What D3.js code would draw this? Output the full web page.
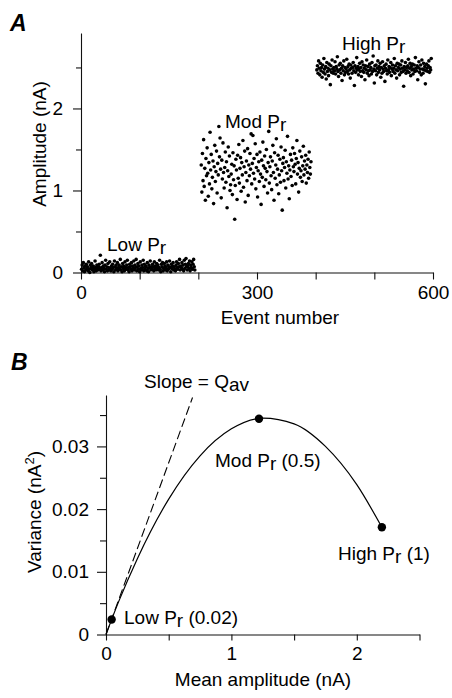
<!DOCTYPE html>
<html><head><meta charset="utf-8">
<script src="https://cdn.jsdelivr.net/npm/d3@7"></script>
<style>
html,body{margin:0;padding:0;background:#fff;}
svg{display:block;font-family:"Liberation Sans",Arial,Helvetica,sans-serif;}
text{fill:#000;}
</style></head><body>
<svg id="chart" width="452" height="698"></svg>
<script>
// ---------------- Panel A data ----------------
const groupStart = [1, 205, 402];
const lowAmp = [
0.04,0.09,0.02,0.12,0.06,0.01,0.08,0.03,0.10,0.05,
0.07,0.02,0.13,0.04,0.00,0.09,0.06,0.11,0.03,0.05,
0.08,0.01,0.04,0.14,0.06,0.02,0.09,0.05,0.03,0.07,
0.10,0.04,0.21,0.02,0.06,0.12,0.03,0.08,0.05,0.01,
0.09,0.15,0.04,0.07,0.02,0.11,0.06,0.03,0.13,0.05,
0.02,0.08,0.04,0.10,0.06,0.01,0.14,0.07,0.03,0.09,
0.05,0.12,0.02,0.06,0.09,0.04,0.16,0.03,0.07,0.01,
0.11,0.05,0.08,0.02,0.13,0.06,0.04,0.09,0.15,0.03,
0.06,0.01,0.10,0.07,0.04,0.12,0.02,0.08,0.05,0.14,
0.03,0.09,0.06,0.16,0.02,0.07,0.11,0.04,0.08,0.01,
0.13,0.05,0.03,0.09,0.06,0.15,0.02,0.10,0.04,0.07,
0.08,0.02,0.12,0.05,0.01,0.09,0.06,0.14,0.03,0.07,
0.04,0.10,0.07,0.02,0.13,0.05,0.08,0.03,0.11,0.06,
0.09,0.03,0.06,0.15,0.04,0.01,0.10,0.07,0.12,0.02,
0.05,0.11,0.08,0.03,0.06,0.13,0.02,0.09,0.04,0.07,
0.14,0.06,0.01,0.10,0.05,0.08,0.12,0.03,0.07,0.04,
0.02,0.09,0.13,0.06,0.04,0.11,0.07,0.16,0.03,0.08,
0.06,0.12,0.04,0.09,0.02,0.15,0.05,0.10,0.17,0.07,
0.03,0.08,0.11,0.05,0.14,0.02,0.09,0.06,0.13,0.04,
0.10,0.16,0.07,0.03];
const modAmp = [
1.31,0.98,1.45,1.12,1.62,1.05,1.27,0.88,1.39,1.18,
1.52,1.21,0.93,1.34,1.08,1.71,1.25,1.44,1.02,1.16,
1.36,0.84,1.29,1.55,1.11,1.23,1.48,0.97,1.33,1.19,
1.78,1.41,1.64,1.26,0.91,1.37,1.14,1.58,1.22,1.03,
1.28,1.47,1.10,1.35,0.79,1.24,1.53,1.17,1.42,1.00,
1.07,1.20,1.32,0.95,1.46,1.13,1.30,0.65,1.06,1.38,
1.25,0.89,1.43,1.15,1.56,1.09,1.27,1.40,0.99,1.34,
1.19,1.61,1.04,1.29,1.48,0.86,1.22,1.36,1.12,1.51,
0.94,1.31,1.18,1.45,1.26,1.69,1.08,1.33,1.67,1.21,
1.39,1.14,1.57,1.02,1.28,1.44,0.92,1.24,1.35,1.11,
1.47,1.20,0.83,1.37,1.16,1.59,1.30,1.05,1.42,1.27,
1.13,1.50,1.23,0.97,1.34,1.72,1.09,1.29,1.41,1.18,
1.01,1.36,1.55,1.22,0.88,1.46,1.15,1.31,1.63,1.07,
1.26,1.43,0.96,1.19,1.38,1.10,1.53,1.24,0.76,1.33,
1.40,1.12,1.28,1.49,1.03,1.35,1.21,1.66,1.14,1.30,
0.90,1.25,1.44,1.17,1.37,1.06,1.52,1.29,1.23,1.45,
1.32,1.08,1.39,1.61,1.20,1.34,0.98,1.27,1.48,1.16,
1.24,1.41,1.11,1.30,1.54,1.19,1.36,1.26,1.43,1.09,
1.31,1.22,1.38,1.15,1.47,1.28,1.20,1.35];
const highAmp = [
2.47,2.52,2.43,2.58,2.49,2.41,2.55,2.46,2.50,2.38,
2.53,2.44,2.61,2.48,2.42,2.51,2.36,2.56,2.45,2.49,
2.40,2.54,2.47,2.29,2.52,2.44,2.59,2.48,2.43,2.50,
2.46,2.57,2.42,2.51,2.48,2.63,2.45,2.39,2.53,2.47,
2.55,2.43,2.49,2.34,2.52,2.46,2.58,2.41,2.50,2.44,
2.48,2.60,2.45,2.51,2.42,2.54,2.47,2.37,2.53,2.49,
2.43,2.50,2.56,2.46,2.28,2.52,2.44,2.49,2.62,2.47,
2.51,2.41,2.48,2.55,2.45,2.50,2.39,2.57,2.46,2.53,
2.44,2.49,2.35,2.52,2.47,2.59,2.43,2.51,2.46,2.40,
2.54,2.47,2.50,2.42,2.56,2.45,2.64,2.48,2.31,2.52,
2.46,2.53,2.41,2.49,2.58,2.44,2.51,2.47,2.55,2.38,
2.50,2.43,2.57,2.48,2.45,2.52,2.33,2.49,2.54,2.46,
2.42,2.59,2.47,2.51,2.44,2.50,2.56,2.40,2.48,2.53,
2.45,2.49,2.61,2.43,2.52,2.47,2.37,2.55,2.46,2.50,
2.54,2.41,2.48,2.53,2.44,2.58,2.49,2.45,2.27,2.51,
2.47,2.56,2.43,2.50,2.46,2.52,2.60,2.44,2.49,2.55,
2.40,2.51,2.47,2.54,2.42,2.48,2.53,2.45,2.62,2.49,
2.46,2.52,2.35,2.50,2.57,2.44,2.48,2.53,2.41,2.59,
2.48,2.43,2.55,2.47,2.51,2.30,2.46,2.54,2.49,2.45,
2.52,2.58,2.44,2.50,2.47,2.61];
const aXTicks = [0,100,200,300,400,500,600];
const aXLabels = [0,300,600];
const aYTicks = [0,0.5,1,1.5,2,2.5];
const aYLabels = [0,1,2];

// ---------------- Panel B data ----------------
const bPointMean = [0.045, 1.22, 2.2];
const bPointVar = [0.0024, 0.0344, 0.0171];
const bCurveMean = [0, 0.1, 0.25, 0.5, 0.75, 1.0, 1.25, 1.5, 1.75, 2.0, 2.2];
const bCurveVar = [0, 0.0052, 0.0121, 0.0216, 0.0285, 0.0328, 0.0345, 0.0336, 0.0300, 0.0239, 0.0171];
const bSlopeMean = [0, 0.69];
const bSlopeVar = [0, 0.0378];
const bXTicks = [0,0.5,1,1.5,2,2.5];
const bXLabels = [0,1,2];
const bYTicks = [0,0.005,0.01,0.015,0.02,0.025,0.03,0.035];
const bYLabels = [0,0.01,0.02,0.03];

const svg = d3.select("#chart");
const FS = 19;
const near = (arr, d) => arr.some(v => Math.abs(v - d) < 1e-9);

function finishAxis(g, labels, majLen, minLen, vertical, fmt) {
  g.select(".domain").attr("stroke", "#111").attr("stroke-width", 1.1);
  g.selectAll(".tick line").attr("stroke", "#111").attr("stroke-width", 1.1)
    .attr(vertical ? "x2" : "y2", d => (near(labels, d) ? majLen : minLen) * (vertical ? -1 : 1));
  g.selectAll(".tick text").attr("fill", "#000").style("font-size", FS + "px")
    .text(d => near(labels, d) ? fmt(d) : "");
  g.attr("font-family", null);
}

function addLabel(x, y, parts, extra) {
  const t = svg.append("text").attr("x", x).attr("y", y).style("font-size", FS + "px");
  if (extra) extra(t);
  parts.forEach(p => {
    const s = t.append("tspan").text(p[0]);
    if (p[1]) s.attr("dy", p[1]);
    if (p[2]) s.style("font-size", p[2] + "px");
  });
  return t;
}

// ---------------- Panel A ----------------
const xA = d3.scaleLinear().domain([0, 600]).range([81, 433]);
const yA = d3.scaleLinear().domain([0, 2.92]).range([272.5, 33]);

const gAx = svg.append("g").attr("transform", `translate(0,${yA(0)})`)
  .call(d3.axisBottom(xA).tickValues(aXTicks).tickSize(7).tickPadding(6.5).tickSizeOuter(0));
finishAxis(gAx, aXLabels, 7, 7, false, d3.format("d"));
const gAy = svg.append("g").attr("transform", `translate(${xA(0)},0)`)
  .call(d3.axisLeft(yA).tickValues(aYTicks).tickSize(8).tickPadding(10).tickSizeOuter(0));
finishAxis(gAy, aYLabels, 8, 5, true, d3.format("d"));

[lowAmp, modAmp, highAmp].forEach((arr, gi) => {
  svg.append("g").selectAll("circle").data(arr).join("circle")
    .attr("cx", (d, i) => xA(groupStart[gi] + i))
    .attr("cy", d => yA(d))
    .attr("r", 1.8).attr("fill", "#000");
});

svg.append("text").attr("x", 10).attr("y", 31).text("A")
  .style("font-size", "23px").style("font-style", "italic").style("font-weight", "bold");

addLabel(107, 251, [["Low P"], ["r", 3]]);
addLabel(225, 128, [["Mod P"], ["r", 3]]);
addLabel(342, 50, [["High P"], ["r", 3]]);

svg.append("text").attr("x", 280).attr("y", 324).attr("text-anchor", "middle")
  .style("font-size", FS + "px").text("Event number");
svg.append("text").attr("transform", "translate(46,144) rotate(-90)").attr("text-anchor", "middle")
  .style("font-size", FS + "px").text("Amplitude (nA)");

// ---------------- Panel B ----------------
const xB = d3.scaleLinear().domain([0, 2.5]).range([106, 419.5]);
const yB = d3.scaleLinear().domain([0, 0.0382]).range([634.5, 395]);

const gBx = svg.append("g").attr("transform", `translate(0,${yB(0)})`)
  .call(d3.axisBottom(xB).tickValues(bXTicks).tickSize(6).tickPadding(6).tickSizeOuter(0));
finishAxis(gBx, bXLabels, 6, 6, false, d3.format("d"));
const gBy = svg.append("g").attr("transform", `translate(${xB(0)},0)`)
  .call(d3.axisLeft(yB).tickValues(bYTicks).tickSize(9).tickPadding(8).tickSizeOuter(0));
finishAxis(gBy, bYLabels, 9, 6, true, d => d === 0 ? "0" : d3.format(".2f")(d));

const curvePts = bCurveMean.map((m, i) => [m, bCurveVar[i]]);
svg.append("path").datum(curvePts)
  .attr("d", d3.line().x(d => xB(d[0])).y(d => yB(d[1])).curve(d3.curveMonotoneX))
  .attr("fill", "none").attr("stroke", "#000").attr("stroke-width", 1.2);

const slopePts = bSlopeMean.map((m, i) => [m, bSlopeVar[i]]);
svg.append("path").datum(slopePts)
  .attr("d", d3.line().x(d => xB(d[0])).y(d => yB(d[1])))
  .attr("fill", "none").attr("stroke", "#000").attr("stroke-width", 1.1)
  .attr("stroke-dasharray", "9,4");

svg.append("g").selectAll("circle").data(bPointMean).join("circle")
  .attr("cx", d => xB(d)).attr("cy", (d, i) => yB(bPointVar[i]))
  .attr("r", 4.2).attr("fill", "#000");

svg.append("text").attr("x", 11).attr("y", 370).text("B")
  .style("font-size", "23px").style("font-style", "italic").style("font-weight", "bold");

addLabel(144, 388, [["Slope = Q"], ["av", 3]]);
addLabel(215, 467, [["Mod P"], ["r", 3], [" (0.5)", -3]]);
addLabel(338, 560, [["High P"], ["r", 3], [" (1)", -3]]);
addLabel(124, 624, [["Low P"], ["r", 3], [" (0.02)", -3]]);

svg.append("text").attr("x", 263).attr("y", 686).attr("text-anchor", "middle")
  .style("font-size", FS + "px").text("Mean amplitude (nA)");
addLabel(0, 0, [["Variance (nA"], ["2", -7, 13], [")", 7]],
  t => t.attr("transform", "translate(41,512) rotate(-90)").attr("text-anchor", "middle"));
</script>
</body></html>
